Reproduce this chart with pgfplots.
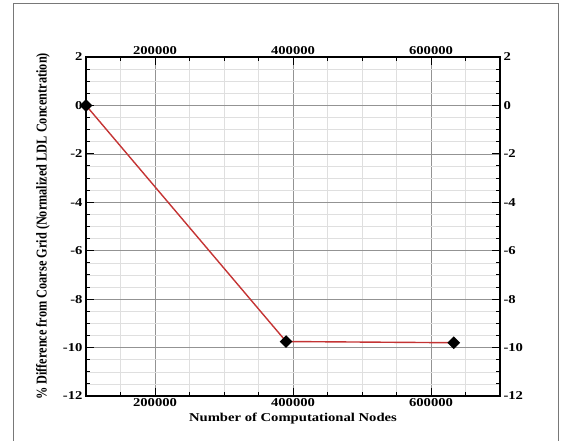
\documentclass[border=0pt]{standalone}
\usepackage{pgfplots}
\pgfplotsset{compat=1.18}
\usepackage{fontspec}
\setmainfont{Liberation Serif}
\newfontfamily\wide[FakeStretch=1.22]{Liberation Serif}

\definecolor{linered}{RGB}{196,52,52}
\definecolor{framegray}{RGB}{120,120,120}

\newcommand{\tickfont}{\wide\bfseries\fontsize{12bp}{14bp}\selectfont}

\begin{document}
\begin{tikzpicture}
  % page size and outer frame
  \useasboundingbox (0,0) rectangle (561bp,441bp);
  \draw[framegray, line width=0.8bp] (13bp,0) -- (13bp,438bp) -- (558bp,438bp) -- (558bp,0);

  % main axis: grid, ticks, data, labels on bottom/left
  \begin{axis}[
    at={(86bp,45bp)}, anchor=south west,
    scale only axis, width=414bp, height=339bp,
    xmin=100000, xmax=700000, ymin=-12, ymax=2,
    xtick={200000,400000,600000},
    xticklabels={200000,400000,600000},
    ytick={-12,-10,-8,-6,-4,-2,0,2},
    yticklabels={-12,-10,-8,-6,-4,-2,0,2},
    minor xtick={100000,150000,...,700000},
    minor ytick={-12,-11.5,...,2},
    grid=both,
    major grid style={gray!85, line width=0.7bp},
    minor grid style={gray!25, line width=0.5bp},
    tick pos=both,
    tick align=inside,
    major tick length=8bp,
    minor tick length=4bp,
    tick style={black, line width=1bp},
    axis line style={black, line width=1.6bp},
    scaled x ticks=false,
    xticklabel style={font=\tickfont, yshift=1bp},
    yticklabel style={font=\tickfont},
    every axis y label/.style={at={(axis description cs:-0.104,0.5)}, rotate=90, anchor=center},
    every axis x label/.style={at={(axis description cs:0.5,-0.068)}, anchor=center},
    xlabel={\wide\bfseries\fontsize{12bp}{14bp}\selectfont Number of Computational Nodes},
    ylabel={\scalebox{1}[1.22]{\bfseries\fontsize{12.3bp}{14bp}\selectfont \% Difference from Coarse Grid (Normalized LDL Concentration)}},
  ]
    \addplot[linered, line width=1.4bp, mark=square*, mark size=3.8bp,
             mark options={black, fill=black, rotate=45}]
      coordinates {(100000,0) (390000,-9.75) (633000,-9.8)};
  \end{axis}

  % duplicate axis carrying the top and right tick labels
  \begin{axis}[
    at={(86bp,45bp)}, anchor=south west,
    scale only axis, width=414bp, height=339bp,
    xmin=100000, xmax=700000, ymin=-12, ymax=2,
    xtick={200000,400000,600000},
    xticklabels={200000,400000,600000},
    ytick={-12,-10,-8,-6,-4,-2,0,2},
    yticklabels={-12,-10,-8,-6,-4,-2,0,2},
    axis line style={draw=none},
    tick style={draw=none},
    xticklabel pos=right, yticklabel pos=right,
    scaled x ticks=false,
    xticklabel style={font=\tickfont, yshift=-1bp},
    yticklabel style={font=\tickfont},
  ]
  \end{axis}
\end{tikzpicture}
\end{document}
